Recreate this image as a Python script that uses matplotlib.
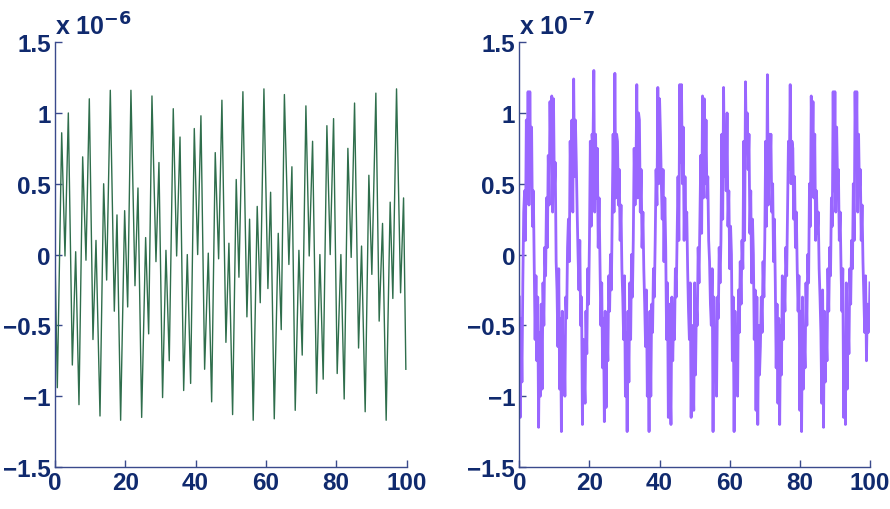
import matplotlib
matplotlib.use('Agg')
import matplotlib.pyplot as plt
from matplotlib import font_manager

# left signal: turning points (units of 1e-6)
left_x = [0.0, 0.66, 1.9, 2.84, 3.79, 4.93, 5.88, 6.82, 7.87, 8.81, 9.76, 10.8, 11.66, 12.8,
          13.84, 14.69, 15.73, 16.87, 17.63, 18.67, 19.81, 20.67, 21.6, 22.75, 23.6, 24.65,
          25.78, 26.64, 27.58, 28.72, 29.57, 30.6, 31.56, 32.5, 33.64, 34.6, 35.56, 36.6,
          37.63, 38.58, 39.62, 40.58, 41.51, 42.56, 43.6, 44.56, 45.58, 46.54, 47.48, 48.62,
          49.47, 50.52, 51.55, 52.32, 53.45, 54.59, 55.35, 56.38, 57.52, 58.38, 59.43, 60.56,
          61.33, 62.37, 63.5, 64.35, 65.25, 66.53, 67.39, 68.33, 69.38, 70.32, 71.37, 72.31,
          73.27, 74.41, 75.35, 76.29, 77.34, 78.28, 79.24, 80.27, 81.32, 82.26, 83.31, 84.25,
          85.21, 86.35, 87.2, 88.23, 89.28, 90.13, 91.27, 92.21, 93.17, 94.2, 95.34, 96.1,
          97.15, 98.3, 99.15, 99.8]
left_y = [0.0, -0.94, 0.86, -0.01, 1.00, -0.78, 0.02, -1.06, 0.69, -0.04, 1.10, -0.60, 0.10, -1.14,
          0.50, -0.18, 1.16, -0.40, 0.28, -1.17, 0.31, -0.37, 1.16, -0.22, 0.47, -1.15,
          0.12, -0.56, 1.12, -0.05, 0.65, -1.01, 0.03, -0.75, 1.03, -0.01, 0.83, -0.96,
          0.0, -0.91, 0.89, 0.0, 0.98, -0.81, 0.01, -1.04, 0.72, -0.03, 1.09, -0.62,
          0.08, -1.13, 0.53, -0.16, 1.15, -0.44, 0.25, -1.17, 0.34, -0.34, 1.17, -0.24,
          0.44, -1.16, 0.15, -0.53, 1.13, -0.07, 0.62, -1.10, 0.03, -0.71, 1.05, -0.01,
          0.80, -0.98, 0.0, -0.88, 0.91, 0.0, 0.96, -0.84, 0.0, -1.02, 0.75, -0.02,
          1.07, -0.66, 0.06, -1.11, 0.56, -0.14, 1.14, -0.47, 0.22, -1.17, 0.37, -0.31,
          1.17, -0.27, 0.40, -0.81]

# right signal: values every 0.25 along x (units of 1e-7)
right_y = [
    -0.3, -1.15, -0.45, -0.9, -0.2, 0.3,
    0.45, 0.1, 0.95, 0.5, 1.15, 0.35, 1.15, 0.55, 0.9, 0.2, 0.45, -0.1,
    -0.6, -0.15, -0.75, -0.3, -1.22, -0.55, -1.0, -0.35, -0.95, -0.2, -0.5, 0.05, -0.15,
    0.4, 0.05, 0.7, 0.35, 1.08, 0.65, 1.12, 0.3, 1.1, 0.45, 0.65, -0.05,
    -0.25, -0.65, -0.1, -0.95, -0.45, -1.25, -0.4, -0.8, -0.6, -1.0, -0.3, -0.45, 0.05,
    0.25, -0.05, 0.8, 0.4, 0.95, 0.3, 1.24, 0.55, 0.95, 0.65, 0.3, 0.0,
    -0.25, 0.1, -0.5, -0.3, -1.2, -0.6, -0.85, -1.05, -0.4, -0.7, -0.1, -0.35, 0.1,
    0.8, 0.2, 0.85, 0.75, 1.3, 0.3, 0.85, 0.4, 0.75, 0.05, 0.4, -0.05,
    -0.5, -0.2, -0.8, -0.45, -1.18, -0.4, -1.08, -0.55, -0.75, -0.15, -0.4, 0.0, -0.25,
    0.3, 0.85, 0.3, 1.28, 0.4, 0.85, 0.8, 0.35, 0.6, 0.1, 0.35, -0.1,
    -0.3, -0.6, -0.15, -1.0, -0.55, -1.25, -0.4, -0.9, -0.2, -0.6, 0.0, -0.3, 0.1,
    0.75, 0.35, 0.55, 1.2, 0.4, 1.0, 0.95, 0.3, 0.6, 0.05, 0.3, -0.1,
    -0.35, -0.65, -0.25, -1.0, -0.6, -1.25, -0.4, -1.0, -0.35, -0.55, -0.1, -0.3, 0.1,
    0.6, 0.35, 1.18, 0.5, 1.1, 0.85, 0.5, 0.25, 0.6, -0.05, 0.4, 0.05,
    -0.6, -0.2, -1.15, -0.35, -0.9, -1.2, -0.3, -0.75, -0.45, -0.6, -0.1, -0.3, 0.15,
    0.55, 0.1, 1.2, 0.65, 1.2, 0.5, 0.9, 0.1, 0.55, 0.2, 0.3, -0.1,
    -0.4, -0.6, -0.2, -1.15, -0.5, -0.85, -1.1, -0.2, -0.85, -0.35, -0.5, 0.05, -0.2,
    0.25, 0.7, 0.15, 1.12, 0.4, 1.1, 0.5, 0.95, 0.4, 0.55, 0.1, -0.05,
    -0.35, -0.5, -0.1, -1.25, -0.3, -0.85, -0.6, -1.0, -0.3, -0.45, 0.05, -0.2, 0.1,
    0.85, 0.25, 1.18, 0.55, 0.85, 0.45, 1.0, 0.2, 0.45, -0.1, 0.2, 0.0,
    -0.75, -0.3, -1.25, -0.4, -0.95, -0.6, -1.0, -0.25, -0.55, -0.05, -0.35, 0.1, -0.1,
    0.8, 0.1, 1.22, 0.75, 1.0, 0.6, 0.85, 0.15, 0.45, -0.2, 0.25, 0.0,
    -0.6, -0.25, -1.1, -0.3, -1.2, -0.5, -0.85, -0.65, -0.3, -0.55, -0.05, -0.3, 0.1,
    0.8, 0.2, 1.27, 0.35, 0.85, 0.6, 0.85, 0.3, 0.5, -0.05, 0.25, -0.2,
    -0.8, -0.35, -1.05, -0.45, -1.2, -0.5, -0.85, -0.15, -0.6, -0.2, -0.4, 0.05, -0.15,
    0.3, 0.8, 0.6, 1.2, 0.5, 0.8, 0.75, 0.25, 0.55, 0.05, 0.3, -0.1,
    -0.4, -0.15, -1.1, -0.4, -1.25, -0.3, -0.95, -0.6, -0.8, -0.2, -0.5, 0.0, -0.2,
    0.5, 0.2, 1.12, 0.65, 1.08, 0.4, 0.85, 0.1, 0.45, 0.15, 0.3, -0.1,
    -0.3, -0.55, -1.05, -0.25, -1.22, -0.4, -0.9, -0.55, -0.75, -0.1, -0.4, 0.05, -0.15,
    0.4, 0.2, 1.15, 0.45, 1.15, 0.3, 0.9, 0.5, 0.6, 0.1, 0.3, -0.1,
    -0.4, -0.1, -1.15, -0.6, -1.2, -0.2, -0.95, -0.45, -0.7, -0.1, -0.35, 0.1, -0.1,
    0.5, 0.1, 1.15, 0.65, 1.15, 0.3, 0.85, 0.45, 0.6, 0.1, 0.35, -0.05,
    -0.3, -0.55, -0.15, -0.75, -0.35, -0.55, -0.5, -0.2,
]
right_x = [i * 100.0 / (len(right_y) - 1) for i in range(len(right_y))]

yticks = [-1.5, -1, -0.5, 0, 0.5, 1, 1.5]
ytick_labels = ['\u22121.5', '\u22121', '\u22120.5', '0', '0.5', '1', '1.5']
xticks = [0, 20, 40, 60, 80, 100]

names = {f.name for f in font_manager.fontManager.ttflist}
fam = 'Liberation Sans Narrow' if 'Liberation Sans Narrow' in names else 'Liberation Sans'
plt.rcParams['font.family'] = [fam, 'DejaVu Sans']

navy = '#102a6e'
spine_col = '#3a4a8c'

fig = plt.figure(figsize=(8.9, 5.1), dpi=100)
ax1 = fig.add_axes([0.0618, 0.0824, 0.395, 0.833])
ax2 = fig.add_axes([0.5835, 0.0824, 0.394, 0.833])

ax1.plot(left_x, left_y, color='#2f6e4c', lw=1.0)
ax2.plot(right_x, right_y, color='#9966ff', lw=2.0)

for ax, exp in [(ax1, '6'), (ax2, '7')]:
    ax.set_xlim(0, 100)
    ax.set_ylim(-1.5, 1.5)
    ax.set_xticks(xticks)
    ax.set_yticks(yticks)
    ax.set_yticklabels(ytick_labels)
    ax.spines['top'].set_visible(False)
    ax.spines['right'].set_visible(False)
    for s in ['left', 'bottom']:
        ax.spines[s].set_color(spine_col)
        ax.spines[s].set_linewidth(1.0)
    ax.tick_params(direction='in', length=5, width=1, color=spine_col,
                   labelcolor=navy, labelsize=17.5, pad=3)
    for lab in ax.get_xticklabels() + ax.get_yticklabels():
        lab.set_fontweight('bold')
    ax.text(0.0, 1.005, 'x 10$^{\\mathbf{\u2212' + exp + '}}$', transform=ax.transAxes,
            fontsize=18, fontweight='bold', color=navy, ha='left', va='bottom')

fig.savefig('out.png', dpi=100)
